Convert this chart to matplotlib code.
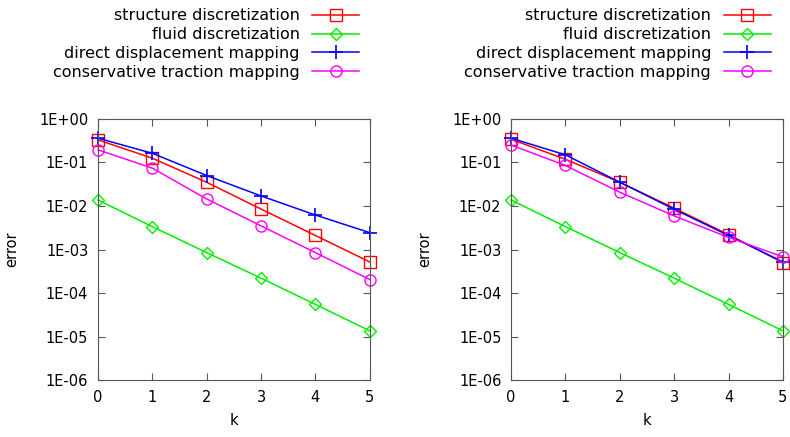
import matplotlib
matplotlib.use("Agg")
import matplotlib.pyplot as plt
from matplotlib.ticker import FixedLocator, FixedFormatter

k = [0, 1, 2, 3, 4, 5]
etiquetas = ["structure discretization", "fluid discretization",
             "direct displacement mapping", "conservative traction mapping"]

# panel izquierdo
izq_estructura = [0.33, 0.125, 0.035, 0.0085, 0.0021, 5.2e-4]
izq_fluido = [0.0137, 0.00335, 8.5e-4, 2.2e-4, 5.5e-5, 1.36e-5]
izq_directo = [0.36, 0.162, 0.05, 0.017, 0.0062, 0.00244]
izq_conservativo = [0.195, 0.074, 0.0145, 0.0035, 8.5e-4, 2.05e-4]

# panel derecho
der_estructura = [0.34, 0.118, 0.035, 0.0089, 0.0022, 5.0e-4]
der_fluido = [0.0137, 0.00335, 8.5e-4, 2.2e-4, 5.5e-5, 1.36e-5]
der_directo = [0.36, 0.149, 0.035, 0.0084, 0.0021, 5.2e-4]
der_conservativo = [0.25, 0.085, 0.0207, 0.0059, 0.0019, 6.8e-4]

yticks = [1e0, 1e-1, 1e-2, 1e-3, 1e-4, 1e-5, 1e-6]
ytick_labels = ["1E+00", "1E-01", "1E-02", "1E-03", "1E-04", "1E-05", "1E-06"]

estilos = [
    dict(color="#ff0000", marker="s", markersize=8.5),
    dict(color="#00ee00", marker="D", markersize=6.5),
    dict(color="#0000ff", marker="+", markersize=10, markeredgewidth=1.2),
    dict(color="#ff00ff", marker="o", markersize=8),
]

plt.rcParams["font.family"] = "DejaVu Sans"
plt.rcParams["font.size"] = 10.5

fig = plt.figure(figsize=(7.9, 4.37), dpi=100)
ax1 = fig.add_axes([0.124, 0.130, 0.344, 0.598])
ax2 = fig.add_axes([0.647, 0.130, 0.344, 0.598])

paneles = [
    (ax1, [izq_estructura, izq_fluido, izq_directo, izq_conservativo], 0.455),
    (ax2, [der_estructura, der_fluido, der_directo, der_conservativo], 0.976),
]

for ax, series, x_leyenda in paneles:
    for datos, etiqueta, estilo in zip(series, etiquetas, estilos):
        ax.plot(k, datos, label=etiqueta, linewidth=1.1,
                markerfacecolor="none", clip_on=False, **estilo)
    ax.set_yscale("log")
    ax.set_xlim(0, 5)
    ax.set_ylim(1e-6, 1e0)
    ax.yaxis.set_major_locator(FixedLocator(yticks))
    ax.yaxis.set_major_formatter(FixedFormatter(ytick_labels))
    ax.yaxis.set_minor_locator(FixedLocator([]))
    ax.set_xticks(k)
    ax.tick_params(direction="in", top=True, right=True, length=5,
                   color="#555555", labelsize=10.5, pad=7)
    for lado in ax.spines.values():
        lado.set_color("#555555")
    ax.set_xlabel("k", fontsize=10.5, labelpad=6)
    ax.set_ylabel("error", fontsize=10.5)
    ax.yaxis.set_label_coords(-0.29, 0.5)
    ax.legend(loc="upper right", bbox_to_anchor=(x_leyenda, 0.981),
              bbox_transform=fig.transFigure, frameon=False,
              markerfirst=False, handlelength=2.95, labelspacing=0.24,
              borderpad=0, borderaxespad=0, handletextpad=0.8,
              fontsize=11.5)

plt.savefig("out.png", dpi=100)
plt.close()
